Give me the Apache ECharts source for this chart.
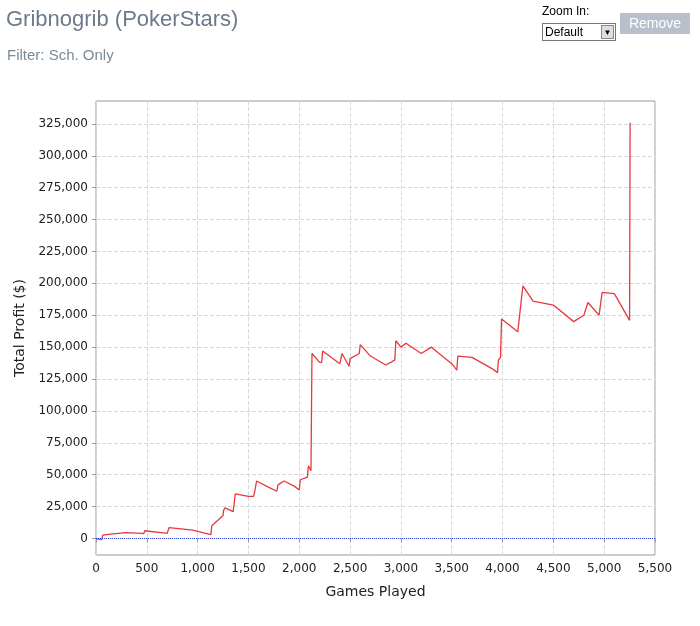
<!DOCTYPE html>
<html>
<head>
<meta charset="utf-8">
<script src="https://cdn.jsdelivr.net/npm/echarts@6/dist/echarts.min.js"></script>
<style>
  body { margin: 0; background: #fff; font-family: Arial, "Liberation Sans", sans-serif; }
  #title { position: absolute; left: 6px; top: 6px; font-size: 22px; color: #6b7b8c; }
  #filter { position: absolute; left: 7px; top: 46px; font-size: 15px; color: #7a8a99; }
  #zoomlbl { position: absolute; left: 542px; top: 4px; font-size: 12px; color: #000; }
  #sel { position: absolute; left: 542px; top: 23px; width: 70px; height: 16px; border: 1px solid #777; font-size: 12px; line-height: 16px; padding-left: 2px; box-sizing: content-box; }
  #sel span { position: absolute; right: 1px; top: 1px; width: 13px; height: 14px; background: #ddd; border: 1px solid #888; box-sizing: border-box; font-size: 8px; text-align: center; line-height: 13px; }
  #rm { position: absolute; left: 620px; top: 13px; width: 70px; height: 21px; background: #b8c0cc; color: #fff; font-size: 14px; text-align: center; line-height: 21px; }
  #chart { position: absolute; left: 0; top: 0; width: 700px; height: 626px; }
</style>
</head>
<body>
<div id="chart"></div>
<div id="title">Gribnogrib (PokerStars)</div>
<div id="filter">Filter: Sch. Only</div>
<div id="zoomlbl">Zoom In:</div>
<div id="sel">Default<span>&#9660;</span></div>
<div id="rm">Remove</div>
<script>
// Games played vs cumulative profit
const games = [0, 40, 60, 65, 100, 290, 450, 470, 480, 700, 715, 720, 950, 1130, 1140, 1250, 1255, 1270, 1350, 1365, 1370, 1500, 1550, 1560, 1575, 1580, 1700, 1780, 1790, 1850, 1950, 2000, 2010, 2080, 2090, 2115, 2125, 2200, 2220, 2230, 2400, 2410, 2420, 2490, 2500, 2590, 2600, 2700, 2850, 2900, 2940, 2950, 3000, 3050, 3200, 3300, 3500, 3550, 3560, 3700, 3900, 3950, 3960, 3980, 3990, 4150, 4160, 4200, 4300, 4500, 4700, 4800, 4810, 4840, 4950, 4960, 4980, 5100, 5250, 5255];
const profit = [0, -1000, -500, 2500, 3000, 4500, 4000, 3800, 6000, 4000, 4000, 8500, 6500, 3000, 10000, 18000, 22000, 24000, 21000, 21000, 35000, 33000, 33000, 36000, 36000, 45000, 40000, 37000, 42000, 45000, 41000, 38000, 46000, 48000, 57000, 53000, 145000, 138000, 138000, 147000, 137000, 137000, 145000, 135000, 141000, 145000, 152000, 143000, 136000, 138000, 140000, 155000, 150000, 153000, 145000, 150000, 137000, 132000, 143000, 142000, 133000, 130000, 140000, 142000, 172000, 162000, 162000, 198000, 186000, 183000, 170000, 175000, 175000, 185000, 175000, 175000, 193000, 192000, 171000, 326000];
const yTicks = [0, 25000, 50000, 75000, 100000, 125000, 150000, 175000, 200000, 225000, 250000, 275000, 300000, 325000];

const chart = echarts.init(document.getElementById('chart'));
const fmt = v => v.toLocaleString('en-US');
const labelFont = { color: '#222', fontSize: 12, fontFamily: 'DejaVu Sans' };
const grid = { type: 'dashed', color: '#d8d8d8', width: 1 };

chart.setOption({
    animation: false,
    grid: { left: 96, right: 45, top: 101, bottom: 71, show: true, borderColor: '#999', borderWidth: 1 },
    xAxis: {
        type: 'value', min: 0, max: 5500, interval: 500,
        name: 'Games Played', nameLocation: 'middle', nameGap: 30,
        nameTextStyle: { color: '#222', fontSize: 14, fontFamily: 'DejaVu Sans' },
        axisLine: { show: false },
        axisTick: { show: true, length: 4, lineStyle: { color: '#999' } },
        axisLabel: Object.assign({ formatter: fmt, showMaxLabel: true }, labelFont),
        splitLine: { lineStyle: grid }
    },
    yAxis: {
        type: 'value', min: -13000, max: 343000,
        name: 'Total Profit ($)', nameLocation: 'middle', nameGap: 64,
        nameTextStyle: { color: '#222', fontSize: 14, fontFamily: 'DejaVu Sans' },
        axisLine: { show: false },
        axisTick: { show: true, length: 4, lineStyle: { color: '#999' }, customValues: yTicks },
        axisLabel: Object.assign({ formatter: fmt, customValues: yTicks }, labelFont),
        splitLine: { lineStyle: grid }
    },
    series: [{
        type: 'line',
        data: games.map((g, i) => [g, profit[i]]),
        showSymbol: false,
        lineStyle: { color: '#e8383d', width: 1.3 },
        markLine: {
            silent: true, symbol: 'none', label: { show: false },
            lineStyle: { color: '#3344cc', type: 'dotted', width: 1 },
            data: [{ yAxis: 0 }]
        }
    }]
});
</script>
</body>
</html>
